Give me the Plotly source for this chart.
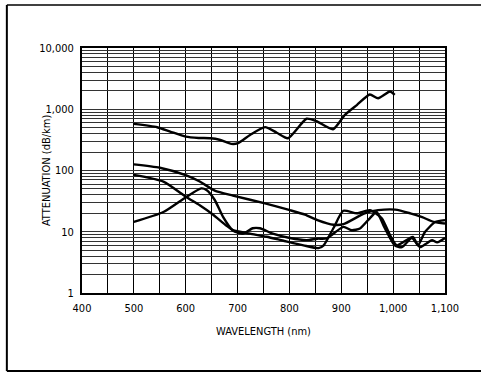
import plotly.graph_objects as go

# wavelength (nm) / attenuation (dB/km)
fiber_a_nm = [500, 545, 570, 600, 625, 648, 665, 688, 701, 724, 753, 775, 797, 833, 852, 884, 907, 930, 955, 971, 994, 1003]
fiber_a_db = [577, 509, 432, 357, 340, 336, 318, 272, 280, 380, 510, 417, 336, 700, 640, 472, 810, 1170, 1740, 1510, 1950, 1720]

fiber_b_nm = [500, 550, 600, 627, 656, 691, 753, 801, 830, 854, 885, 904, 945, 971, 1004, 1033, 1056, 1078, 1100]
fiber_b_db = [126, 111, 84, 66, 47, 39, 29, 22.5, 19, 15.5, 13, 13.3, 20, 22.5, 23, 20, 17.3, 14.5, 13.6]

fiber_c_nm = [500, 557, 601, 627, 651, 679, 691, 724, 756, 787, 827, 856, 866, 885, 904, 930, 955, 978, 994, 1007, 1038, 1048, 1061, 1081, 1100]
fiber_c_db = [85, 66, 37, 27, 19.5, 12.5, 10.6, 9.3, 8.3, 7.2, 6.0, 5.4, 6.0, 11.5, 22, 20, 22.5, 16.6, 8.8, 6.0, 8.2, 6.0, 9.8, 14.4, 15.5]

fiber_d_nm = [500, 557, 601, 630, 640, 656, 672, 691, 710, 729, 743, 768, 801, 833, 854, 872, 904, 920, 936, 955, 968, 984, 1003, 1017, 1036, 1052, 1065, 1075, 1085, 1100]
fiber_d_db = [14.5, 21, 37, 51, 48, 33, 17.5, 10.5, 9.3, 11.4, 11.4, 9.3, 7.9, 7.3, 7.7, 7.8, 12, 10.6, 11.3, 16.6, 21, 11.4, 6.0, 5.6, 7.9, 5.6, 6.5, 7.3, 6.7, 7.9]

x_ticks = list(range(400, 1101, 50))
x_text = ["400", "", "500", "", "600", "", "700", "", "800", "", "900", "", "1,000", "", "1,100"]

y_ticks = [m * 10 ** e for e in range(4) for m in range(1, 10)] + [10000]
decade_text = {1: "1", 10: "10", 100: "100", 1000: "1,000", 10000: "10,000"}
y_text = [decade_text.get(v, "") for v in y_ticks]

FONT = "DejaVu Sans Condensed, Liberation Sans Narrow, Arial Narrow, sans-serif"

fig = go.Figure()
for xs, ys in [(fiber_a_nm, fiber_a_db), (fiber_b_nm, fiber_b_db),
               (fiber_c_nm, fiber_c_db), (fiber_d_nm, fiber_d_db)]:
    fig.add_trace(go.Scatter(
        x=xs, y=ys, mode="lines",
        line=dict(color="black", width=2.4, shape="spline", smoothing=0.6),
        showlegend=False, hoverinfo="skip"
    ))

fig.update_xaxes(
    range=[400, 1100], tickvals=x_ticks, ticktext=x_text,
    showgrid=True, gridcolor="black", gridwidth=1.4,
    showline=True, linecolor="black", linewidth=2, mirror=True,
    ticks="outside", ticklen=4, tickcolor="rgba(0,0,0,0)", zeroline=False,
    tickfont=dict(family=FONT, size=11, color="black"),
    title=dict(text="WAVELENGTH (nm)", standoff=13,
               font=dict(family=FONT, size=11, color="black"))
)
fig.update_yaxes(
    type="log", range=[0, 4], tickvals=y_ticks, ticktext=y_text,
    showgrid=True, gridcolor="#333333", gridwidth=1,
    showline=True, linecolor="black", linewidth=2, mirror=True,
    ticks="outside", ticklen=4, tickcolor="rgba(0,0,0,0)", zeroline=False,
    tickfont=dict(family=FONT, size=11, color="black"),
)

# y-axis title placed by hand so it sits closer to the labels
fig.add_annotation(text="ATTENUATION (dB/km)", xref="paper", yref="paper",
                   x=-0.121, y=0.5, textangle=-90, showarrow=False,
                   font=dict(family=FONT, size=11, color="black"))

# outer box of the figure (open on the right like the scan)
fig.add_shape(type="line", xref="paper", yref="paper", x0=-0.207, x1=1.1, y0=1.176, y1=1.176,
              line=dict(color="black", width=1.5))
fig.add_shape(type="line", xref="paper", yref="paper", x0=-0.207, x1=-0.207, y0=1.176, y1=-0.318,
              line=dict(color="black", width=2))
fig.add_shape(type="line", xref="paper", yref="paper", x0=-0.207, x1=1.1, y0=-0.318, y1=-0.318,
              line=dict(color="black", width=2))

fig.update_layout(
    width=481, height=374,
    margin=dict(l=82, r=36, t=48, b=81, autoexpand=False),
    paper_bgcolor="white", plot_bgcolor="white",
    showlegend=False
)

fig.write_html("out.html", config={"displayModeBar": False},
               post_script="document.body.style.margin='0';")
